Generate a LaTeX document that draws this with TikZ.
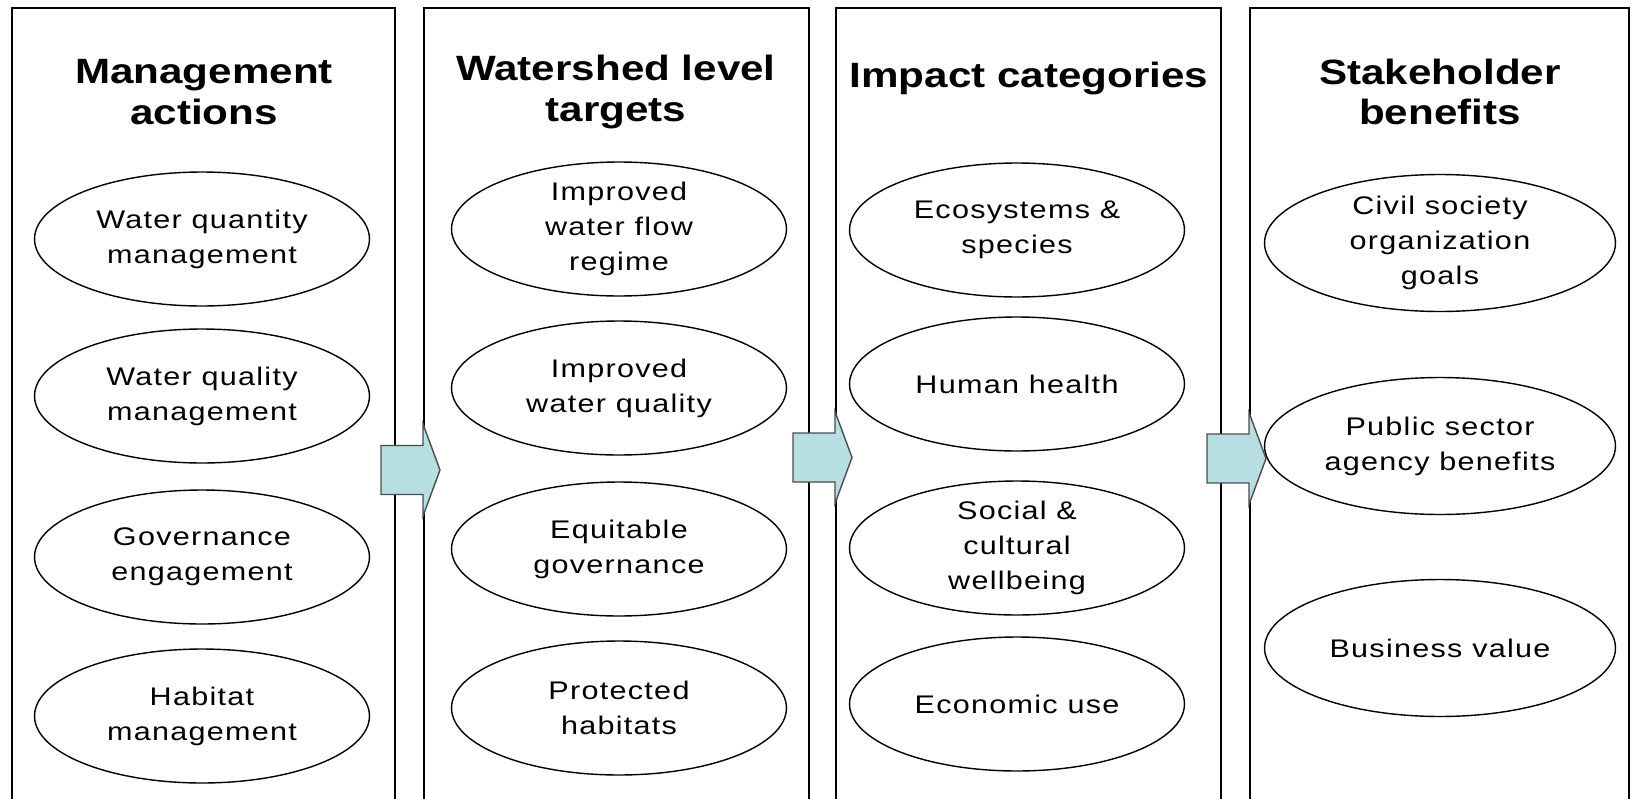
\documentclass[tikz,border=0pt]{standalone}
\usepackage{fontspec}
\setmainfont{Liberation Sans}[FakeStretch=1.2]
\newfontfamily\goalfont{Liberation Sans}[FakeStretch=1.2,LetterSpace=5]
\usetikzlibrary{shapes.geometric}

\definecolor{arrowfill}{RGB}{183,222,226}

\begin{document}
\begin{tikzpicture}[x=0.02cm,y=-0.02cm,
    column/.style={draw=black,line width=1.1pt},
    title/.style={font=\bfseries\fontsize{20}{23}\selectfont,align=center},
    goal/.style={shape=ellipse,draw=black,line width=0.8pt,inner sep=0pt,
      font=\goalfont\fontsize{14.5}{20}\selectfont,align=center,
      minimum width=6.7cm,minimum height=2.68cm},
    blockarrow/.style={fill=arrowfill,draw=black!70,line width=0.8pt}]
    \useasboundingbox (0,0) rectangle (1632,798);
    \clip (0,0) rectangle (1632,798);

    % columns
    \draw[column] (12,8) rectangle (395,830);
    \draw[column] (424,8) rectangle (809,830);
    \draw[column] (836,8) rectangle (1221,830);
    \draw[column] (1250,8) rectangle (1629,830);

    \node[title] (tma) at (204,92) {Management\\actions};
    \node[title] (twt) at (616,92) {Watershed level\\targets};
    \node[title] (tic) at (1029,78) {Impact categories};
    \node[title] (tsb) at (1440,92) {Stakeholder\\benefits};

    \node[goal] (ma1) at (202,239) {Water quantity\\management};
    \node[goal] (ma2) at (202,396) {Water quality\\management};
    \node[goal] (ma3) at (202,557) {Governance\\engagement};
    \node[goal] (ma4) at (202,716) {Habitat\\management};

    \node[goal] (wt1) at (619,229) {Improved\\water flow\\regime};
    \node[goal] (wt2) at (619,388) {Improved\\water quality};
    \node[goal] (wt3) at (619,549) {Equitable\\governance};
    \node[goal] (wt4) at (619,708) {Protected\\habitats};

    \node[goal] (ic1) at (1017,230) {Ecosystems \&\\species};
    \node[goal] (ic2) at (1017,384) {Human health};
    \node[goal] (ic3) at (1017,548) {Social \&\\cultural\\wellbeing};
    \node[goal] (ic4) at (1017,704) {Economic use};

    \node[goal,minimum width=7.02cm,minimum height=2.74cm] (sb1) at (1440,243) {Civil society\\organization\\goals};
    \node[goal,minimum width=7.02cm,minimum height=2.74cm] (sb2) at (1440,446) {Public sector\\agency benefits};
    \node[goal,minimum width=7.02cm,minimum height=2.74cm] (sb3) at (1440,648) {Business value};

    % block arrows between the columns
    \foreach \ax/\ay in {381/470, 793/457.5, 1207/458.5}
      \draw[blockarrow] (\ax,\ay-24.5) -- (\ax+42,\ay-24.5) -- (\ax+42,\ay-46)
        -- (\ax+59,\ay) -- (\ax+42,\ay+46) -- (\ax+42,\ay+24.5) -- (\ax,\ay+24.5) -- cycle;
\end{tikzpicture}
\end{document}
